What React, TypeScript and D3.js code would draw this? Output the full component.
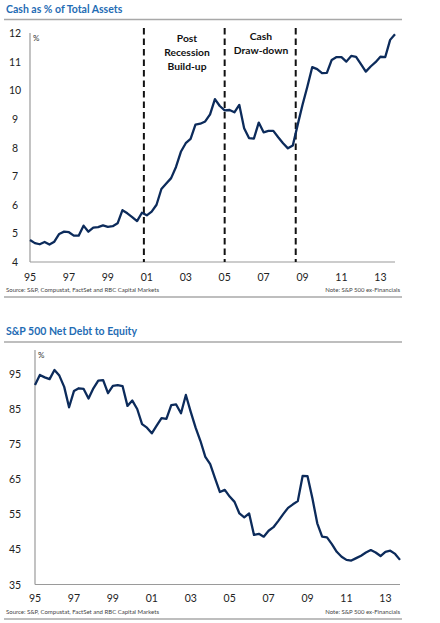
import React from 'react';
import * as d3 from 'd3';

// quarterly, 1995Q1 .. 2013Q4
const startYear = 1995;
const cashPct = [
  4.77, 4.66, 4.62, 4.7, 4.61, 4.71, 4.98, 5.06, 5.04, 4.92, 4.92, 5.27, 5.06, 5.2, 5.22, 5.28,
  5.23, 5.25, 5.35, 5.81, 5.7, 5.57, 5.43, 5.72, 5.63, 5.76, 6.0, 6.55, 6.74, 6.93, 7.32, 7.85,
  8.15, 8.3, 8.8, 8.83, 8.91, 9.16, 9.69, 9.45, 9.3, 9.31, 9.23, 9.49, 8.67, 8.33, 8.31, 8.87,
  8.53, 8.58, 8.58, 8.36, 8.15, 7.97, 8.07, 8.79, 9.49, 10.13, 10.81, 10.74, 10.6, 10.61, 11.06, 11.16,
  11.16, 11.0, 11.2, 11.17, 10.91, 10.65, 10.83, 10.98, 11.17, 11.16, 11.76, 11.96,
];
const netDebtEquity = [
  91.7, 94.6, 93.9, 93.4, 96.0, 94.4, 91.2, 85.4, 90.0, 90.8, 90.6, 87.9, 90.8, 93.0, 93.1, 89.4,
  91.5, 91.7, 91.4, 85.8, 87.3, 84.9, 80.6, 79.6, 78.0, 80.2, 82.3, 82.1, 86.0, 86.2, 83.7, 88.9,
  84.1, 79.6, 75.8, 71.3, 69.2, 65.2, 61.3, 61.9, 60.0, 58.5, 55.2, 54.1, 55.2, 49.1, 49.4, 48.6,
  50.3, 51.3, 53.1, 55.0, 56.8, 57.8, 58.7, 65.9, 65.8, 59.5, 52.4, 48.6, 48.4, 46.5, 44.3, 42.9,
  42.0, 41.8, 42.5, 43.2, 44.1, 44.8, 44.1, 43.1, 44.3, 44.6, 43.7, 42.0,
];
const yearTicks = [1995, 1997, 1999, 2001, 2003, 2005, 2007, 2009, 2011, 2013];
const cashTicks = [4, 5, 6, 7, 8, 9, 10, 11, 12];
const debtTicks = [35, 45, 55, 65, 75, 85, 95];
const regimeBreaks = [2000.85, 2005.0, 2008.65];
const regimeLabels = [
  { lines: ['Post', 'Recession', 'Build-up'], x: 187, y: 38 },
  { lines: ['Cash', 'Draw-down'], x: 261, y: 36 },
];

const FONT = 'Lato, "Open Sans", sans-serif';
const NAVY = '#0c2b5b';
const TITLE_BLUE = '#1f6cb4';
const AXIS = '#9a9a9a';
const SOURCE = 'Source: S&P, Compustat, FactSet and RBC Capital Markets';
const NOTE = 'Note: S&P 500  ex-Financials';

const yrLabel = (y: number) => String(y).slice(2);

interface PanelProps {
  title: string;
  values: number[];
  ticks: number[];
  domain: [number, number];
  top: number; // title centre
  x0: number;
  yBottom: number;
  yTop: number;
  axisTop: number;
  xLabelY: number;
  footY: number;
  breaks?: number[];
}

const Panel: React.FC<PanelProps> = ({
  title, values, ticks, domain, top, x0, yBottom, yTop, axisTop, xLabelY, footY, breaks,
}) => {
  const lastYear = startYear + (values.length - 1) / 4;
  const x = d3.scaleLinear().domain([startYear, lastYear]).range([x0, x0 + 365]);
  const y = d3.scaleLinear().domain(domain).range([yBottom, yTop]);
  const line = d3
    .line<number>()
    .x((_, i) => x(startYear + i / 4))
    .y((d) => y(d));

  return (
    <g>
      <text x={6} y={top} dominantBaseline="central" fontFamily={FONT} fontWeight={700}
        fontSize={10.5} fill={TITLE_BLUE}>{title}</text>
      <line x1={4} x2={402} y1={top + 11} y2={top + 11} stroke="#a8a8a8" strokeWidth={1.5} />

      <line x1={x0} x2={x0} y1={axisTop} y2={yBottom} stroke={AXIS} strokeWidth={1.2} />
      <line x1={x0} x2={x0 + 365} y1={yBottom} y2={yBottom} stroke={AXIS} strokeWidth={1.2} />
      <text x={x0 + 3} y={axisTop + 5} fontFamily={FONT} fontSize={8} fill="#333"
        dominantBaseline="central">%</text>

      {ticks.map((t) => (
        <text key={t} x={15} y={y(t)} textAnchor="middle" dominantBaseline="central"
          fontFamily={FONT} fontSize={10.5} fill="#222">{t}</text>
      ))}
      {yearTicks.map((t) => (
        <text key={t} x={x(t)} y={xLabelY} textAnchor="middle" dominantBaseline="central"
          fontFamily={FONT} fontSize={10.5} fill="#222">{yrLabel(t)}</text>
      ))}

      {(breaks || []).map((b) => (
        <line key={b} x1={x(b)} x2={x(b)} y1={28} y2={yBottom} stroke="#111"
          strokeWidth={2} strokeDasharray="6.5,4" />
      ))}

      <path d={line(values) || ''} fill="none" stroke={NAVY} strokeWidth={2.3}
        strokeLinejoin="round" />

      <text x={6} y={footY} dominantBaseline="central" fontFamily={FONT} fontSize={6}
        fill="#444">{SOURCE}</text>
      <text x={400} y={footY} textAnchor="end" dominantBaseline="central" fontFamily={FONT}
        fontSize={6} fill="#444">{NOTE}</text>
      <line x1={4} x2={402} y1={footY + 8} y2={footY + 8} stroke="#a8a8a8" strokeWidth={1.5} />
    </g>
  );
};

export default function App() {
  return (
    <svg width={440} height={623} style={{ position: 'absolute', left: 0, top: 0, background: '#fff' }}>
      <Panel
        title="Cash as % of Total Assets"
        values={cashPct}
        ticks={cashTicks}
        domain={[4, 12]}
        top={8.5}
        x0={30}
        yBottom={262}
        yTop={33}
        axisTop={33}
        xLabelY={276.7}
        footY={289}
        breaks={regimeBreaks}
      />
      {regimeLabels.map((r) =>
        r.lines.map((s, i) => (
          <text key={s} x={r.x} y={r.y + i * 14} textAnchor="middle" dominantBaseline="central"
            fontFamily={FONT} fontWeight={700} fontSize={10.3} fill="#111">{s}</text>
        )),
      )}
      <Panel
        title="S&P 500 Net Debt to Equity"
        values={netDebtEquity}
        ticks={debtTicks}
        domain={[35, 95]}
        top={331}
        x0={35}
        yBottom={584.5}
        yTop={373.5}
        axisTop={350}
        xLabelY={597.5}
        footY={611}
      />
    </svg>
  );
}
